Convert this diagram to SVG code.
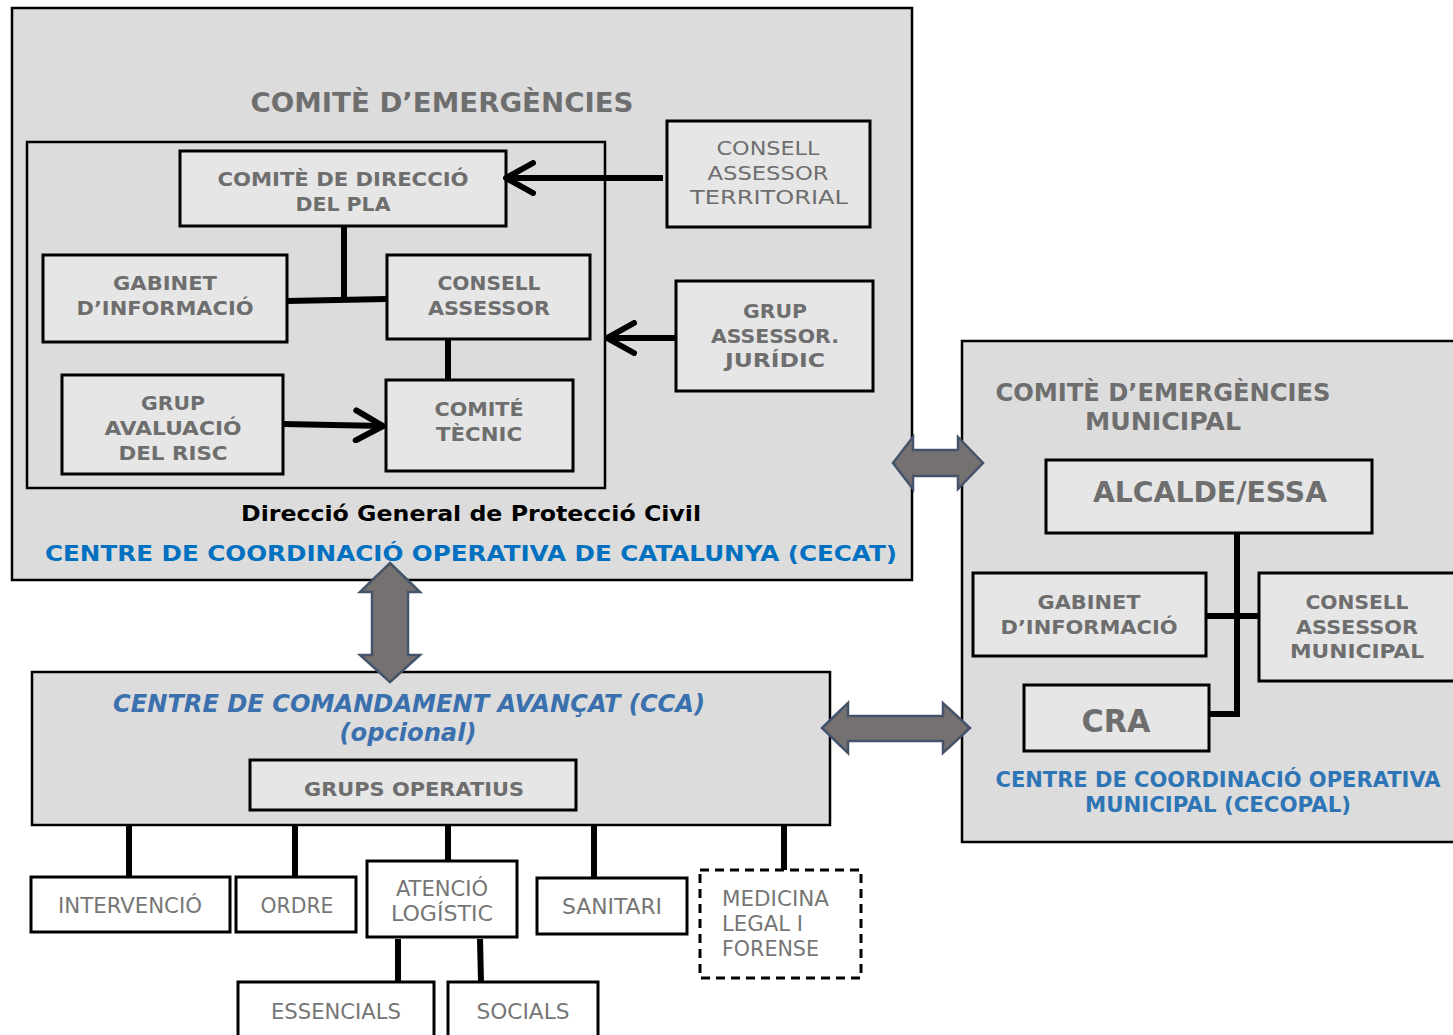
<svg xmlns="http://www.w3.org/2000/svg" width="1453" height="1035" viewBox="0 0 1453 1035">
<defs>
<style>
.cont{fill:#dcdcdc;stroke:#000;stroke-width:2.5}
.box{fill:#e6e6e6;stroke:#000;stroke-width:3}
.wbox{fill:#fff;stroke:#000;stroke-width:3}
.dbox{fill:#fff;stroke:#000;stroke-width:3;stroke-dasharray:9 6}
.t{font-family:"DejaVu Sans",Verdana,sans-serif;font-weight:bold;fill:#6e6e6e;text-anchor:middle}
.tn{font-family:"DejaVu Sans",Verdana,sans-serif;font-weight:normal;fill:#6e6e6e;text-anchor:middle}
.tb{font-family:"DejaVu Sans Condensed","DejaVu Sans",sans-serif;font-weight:normal;fill:#767676;text-anchor:middle;font-size:22px}
.blue{font-family:"DejaVu Sans",Verdana,sans-serif;font-weight:bold;fill:#0070c0;text-anchor:middle}
.blue2{font-family:"DejaVu Sans",Verdana,sans-serif;font-weight:bold;fill:#2e75b6;text-anchor:middle}
.ln{stroke:#000;stroke-width:6;fill:none}
.blk{fill:#767171;stroke:#44546a;stroke-width:2.5;stroke-linejoin:miter}
</style>
<marker id="chev" markerUnits="userSpaceOnUse" viewBox="0 0 34 36" refX="31" refY="18" markerWidth="34" markerHeight="36" orient="auto">
<polyline points="4,3 31,18 4,33" fill="none" stroke="#000" stroke-width="6" stroke-linecap="round" stroke-linejoin="round"/>
</marker>
</defs>

<g id="cecat">
<rect class="cont" x="12" y="8" width="900" height="572"/>
<text class="t" x="442" y="112" font-size="27" textLength="383" lengthAdjust="spacingAndGlyphs">COMITÈ D’EMERGÈNCIES</text>
<text x="471" y="521" font-family="'DejaVu Sans Condensed','DejaVu Sans',sans-serif" font-weight="bold" font-size="22" fill="#000" text-anchor="middle" textLength="460" lengthAdjust="spacingAndGlyphs">Direcció General de Protecció Civil</text>
<text class="blue" x="471" y="561" font-size="22" textLength="852" lengthAdjust="spacingAndGlyphs">CENTRE DE COORDINACIÓ OPERATIVA DE CATALUNYA (CECAT)</text>
</g>
<g id="inner">
<rect x="27" y="142" width="578" height="346" fill="none" stroke="#000" stroke-width="2.5"/>
</g>
<g id="comite-direccio">
<rect class="box" x="180" y="151" width="326" height="75"/>
<text class="t" x="343" y="186" font-size="20" textLength="251" lengthAdjust="spacingAndGlyphs">COMITÈ DE DIRECCIÓ</text>
<text class="t" x="343" y="211" font-size="20" textLength="95" lengthAdjust="spacingAndGlyphs">DEL PLA</text>
</g>
<g id="gabinet">
<rect class="box" x="43" y="255" width="244" height="87"/>
<text class="t" x="165" y="290" font-size="20" textLength="104" lengthAdjust="spacingAndGlyphs">GABINET</text>
<text class="t" x="165" y="315" font-size="20" textLength="177" lengthAdjust="spacingAndGlyphs">D’INFORMACIÓ</text>
</g>
<g id="consell-assessor">
<rect class="box" x="387" y="255" width="203" height="84"/>
<text class="t" x="489" y="290" font-size="20" textLength="103" lengthAdjust="spacingAndGlyphs">CONSELL</text>
<text class="t" x="489" y="315" font-size="20" textLength="122" lengthAdjust="spacingAndGlyphs">ASSESSOR</text>
</g>
<g id="grup-avaluacio">
<rect class="box" x="62" y="375" width="221" height="99"/>
<text class="t" x="173" y="410" font-size="20" textLength="64" lengthAdjust="spacingAndGlyphs">GRUP</text>
<text class="t" x="173" y="435" font-size="20" textLength="137" lengthAdjust="spacingAndGlyphs">AVALUACIÓ</text>
<text class="t" x="173" y="460" font-size="20" textLength="109" lengthAdjust="spacingAndGlyphs">DEL RISC</text>
</g>
<g id="comite-tecnic">
<rect class="box" x="386" y="380" width="187" height="91"/>
<text class="t" x="479" y="416" font-size="20" textLength="89" lengthAdjust="spacingAndGlyphs">COMITÉ</text>
<text class="t" x="479" y="441" font-size="20" textLength="86" lengthAdjust="spacingAndGlyphs">TÈCNIC</text>
</g>
<g id="consell-territorial">
<rect class="box" x="667" y="121" width="203" height="106"/>
<text class="tn" x="768" y="155" font-size="20" textLength="103" lengthAdjust="spacingAndGlyphs">CONSELL</text>
<text class="tn" x="768" y="180" font-size="20" textLength="121" lengthAdjust="spacingAndGlyphs">ASSESSOR</text>
<text class="tn" x="769" y="204" font-size="20" textLength="158" lengthAdjust="spacingAndGlyphs">TERRITORIAL</text>
</g>
<g id="grup-juridic">
<rect class="box" x="676" y="281" width="197" height="110"/>
<text class="t" x="775" y="318" font-size="20" textLength="64" lengthAdjust="spacingAndGlyphs">GRUP</text>
<text class="t" x="775" y="343" font-size="20" textLength="128" lengthAdjust="spacingAndGlyphs">ASSESSOR.</text>
<text class="t" x="775" y="367" font-size="20" textLength="100" lengthAdjust="spacingAndGlyphs">JURÍDIC</text>
</g>

<g id="cecopal">
<rect class="cont" x="962" y="341" width="495" height="501"/>
<text class="t" x="1163" y="401" font-size="24" textLength="335" lengthAdjust="spacingAndGlyphs">COMITÈ D’EMERGÈNCIES</text>
<text class="t" x="1163" y="430" font-size="24" textLength="156" lengthAdjust="spacingAndGlyphs">MUNICIPAL</text>
<text class="blue2" x="1218" y="787" font-size="21" textLength="445" lengthAdjust="spacingAndGlyphs">CENTRE DE COORDINACIÓ OPERATIVA</text>
<text class="blue2" x="1218" y="812" font-size="21" textLength="266" lengthAdjust="spacingAndGlyphs">MUNICIPAL (CECOPAL)</text>
</g>
<g id="alcalde">
<rect class="box" x="1046" y="460" width="326" height="73"/>
<text class="t" x="1210" y="502" font-size="28" textLength="234" lengthAdjust="spacingAndGlyphs">ALCALDE/ESSA</text>
</g>
<g id="gabinet-municipal">
<rect class="box" x="973" y="573" width="233" height="83"/>
<text class="t" x="1089" y="609" font-size="20" textLength="103" lengthAdjust="spacingAndGlyphs">GABINET</text>
<text class="t" x="1089" y="634" font-size="20" textLength="177" lengthAdjust="spacingAndGlyphs">D’INFORMACIÓ</text>
</g>
<g id="consell-municipal">
<rect class="box" x="1259" y="573" width="196" height="108"/>
<text class="t" x="1357" y="609" font-size="20" textLength="103" lengthAdjust="spacingAndGlyphs">CONSELL</text>
<text class="t" x="1357" y="634" font-size="20" textLength="122" lengthAdjust="spacingAndGlyphs">ASSESSOR</text>
<text class="t" x="1357" y="658" font-size="20" textLength="134" lengthAdjust="spacingAndGlyphs">MUNICIPAL</text>
</g>
<g id="cra">
<rect class="box" x="1024" y="685" width="185" height="66"/>
<text class="t" x="1116" y="732" font-size="32" textLength="69" lengthAdjust="spacingAndGlyphs">CRA</text>
</g>

<g id="cca">
<rect class="cont" x="32" y="672" width="798" height="153"/>
<text x="409" y="712" font-family="'DejaVu Sans Condensed','DejaVu Sans',sans-serif" font-weight="bold" font-style="italic" font-size="24" fill="#3a70ad" text-anchor="middle" textLength="592" lengthAdjust="spacingAndGlyphs">CENTRE DE COMANDAMENT AVANÇAT (CCA)</text>
<text x="408" y="741" font-family="'DejaVu Sans Condensed','DejaVu Sans',sans-serif" font-weight="bold" font-style="italic" font-size="24" fill="#3a70ad" text-anchor="middle" textLength="137" lengthAdjust="spacingAndGlyphs">(opcional)</text>
</g>
<g id="grups-operatius">
<rect class="box" x="250" y="760" width="326" height="50"/>
<text class="t" x="414" y="796" font-size="20" textLength="220" lengthAdjust="spacingAndGlyphs">GRUPS OPERATIUS</text>
</g>
<g id="intervencio">
<rect class="wbox" x="31" y="877" width="199" height="55"/>
<text class="tb" x="130" y="913" textLength="144" lengthAdjust="spacingAndGlyphs">INTERVENCIÓ</text>
</g>
<g id="ordre">
<rect class="wbox" x="236" y="877" width="120" height="55"/>
<text class="tb" x="297" y="913" textLength="73" lengthAdjust="spacingAndGlyphs">ORDRE</text>
</g>
<g id="atencio">
<rect class="wbox" x="367" y="861" width="150" height="76"/>
<text class="tb" x="442" y="896" textLength="92" lengthAdjust="spacingAndGlyphs">ATENCIÓ</text>
<text class="tb" x="442" y="921" textLength="102" lengthAdjust="spacingAndGlyphs">LOGÍSTIC</text>
</g>
<g id="sanitari">
<rect class="wbox" x="537" y="878" width="150" height="56"/>
<text class="tb" x="612" y="914" textLength="100" lengthAdjust="spacingAndGlyphs">SANITARI</text>
</g>
<g id="medicina">
<rect class="dbox" x="700" y="870" width="161" height="108"/>
<text class="tb" x="722" y="906" style="text-anchor:start" textLength="107" lengthAdjust="spacingAndGlyphs">MEDICINA</text>
<text class="tb" x="722" y="931" style="text-anchor:start" textLength="81" lengthAdjust="spacingAndGlyphs">LEGAL I</text>
<text class="tb" x="722" y="956" style="text-anchor:start" textLength="97" lengthAdjust="spacingAndGlyphs">FORENSE</text>
</g>
<g id="essencials">
<rect class="wbox" x="238" y="982" width="196" height="60"/>
<text class="tb" x="336" y="1019" textLength="130" lengthAdjust="spacingAndGlyphs">ESSENCIALS</text>
</g>
<g id="socials">
<rect class="wbox" x="448" y="982" width="150" height="60"/>
<text class="tb" x="523" y="1019" textLength="93" lengthAdjust="spacingAndGlyphs">SOCIALS</text>
</g>

<g id="connectors">
<line class="ln" x1="663" y1="178" x2="506" y2="178" marker-end="url(#chev)"/>
<line class="ln" x1="344" y1="226" x2="344" y2="301"/>
<line class="ln" x1="287" y1="301" x2="387" y2="299"/>
<line class="ln" x1="448" y1="339" x2="448" y2="380"/>
<line class="ln" x1="283" y1="424" x2="383" y2="426" marker-end="url(#chev)"/>
<line class="ln" x1="676" y1="338" x2="607" y2="338" marker-end="url(#chev)"/>
<polyline class="ln" points="1237,533 1237,714 1209,714"/>
<line class="ln" x1="1206" y1="616" x2="1259" y2="616"/>
<line class="ln" x1="129" y1="825" x2="129" y2="877"/>
<line class="ln" x1="295" y1="825" x2="295" y2="877"/>
<line class="ln" x1="448" y1="825" x2="448" y2="861"/>
<line class="ln" x1="594" y1="825" x2="594" y2="878"/>
<line class="ln" x1="784" y1="825" x2="784" y2="870"/>
<line class="ln" x1="398" y1="939" x2="398" y2="982"/>
<line class="ln" x1="480" y1="939" x2="481" y2="982"/>
<polygon class="blk" points="390,563 420,592 408,592 408,655 420,655 390,682 360,655 372,655 372,592 360,592"/>
<polygon class="blk" points="893,463 913,437 913,450 958,450 958,437 983,463 958,489 958,476 913,476 913,489"/>
<polygon class="blk" points="822,728 848,703 848,716 943,716 943,703 970,728 943,753 943,741 848,741 848,753"/>
</g>
</svg>
